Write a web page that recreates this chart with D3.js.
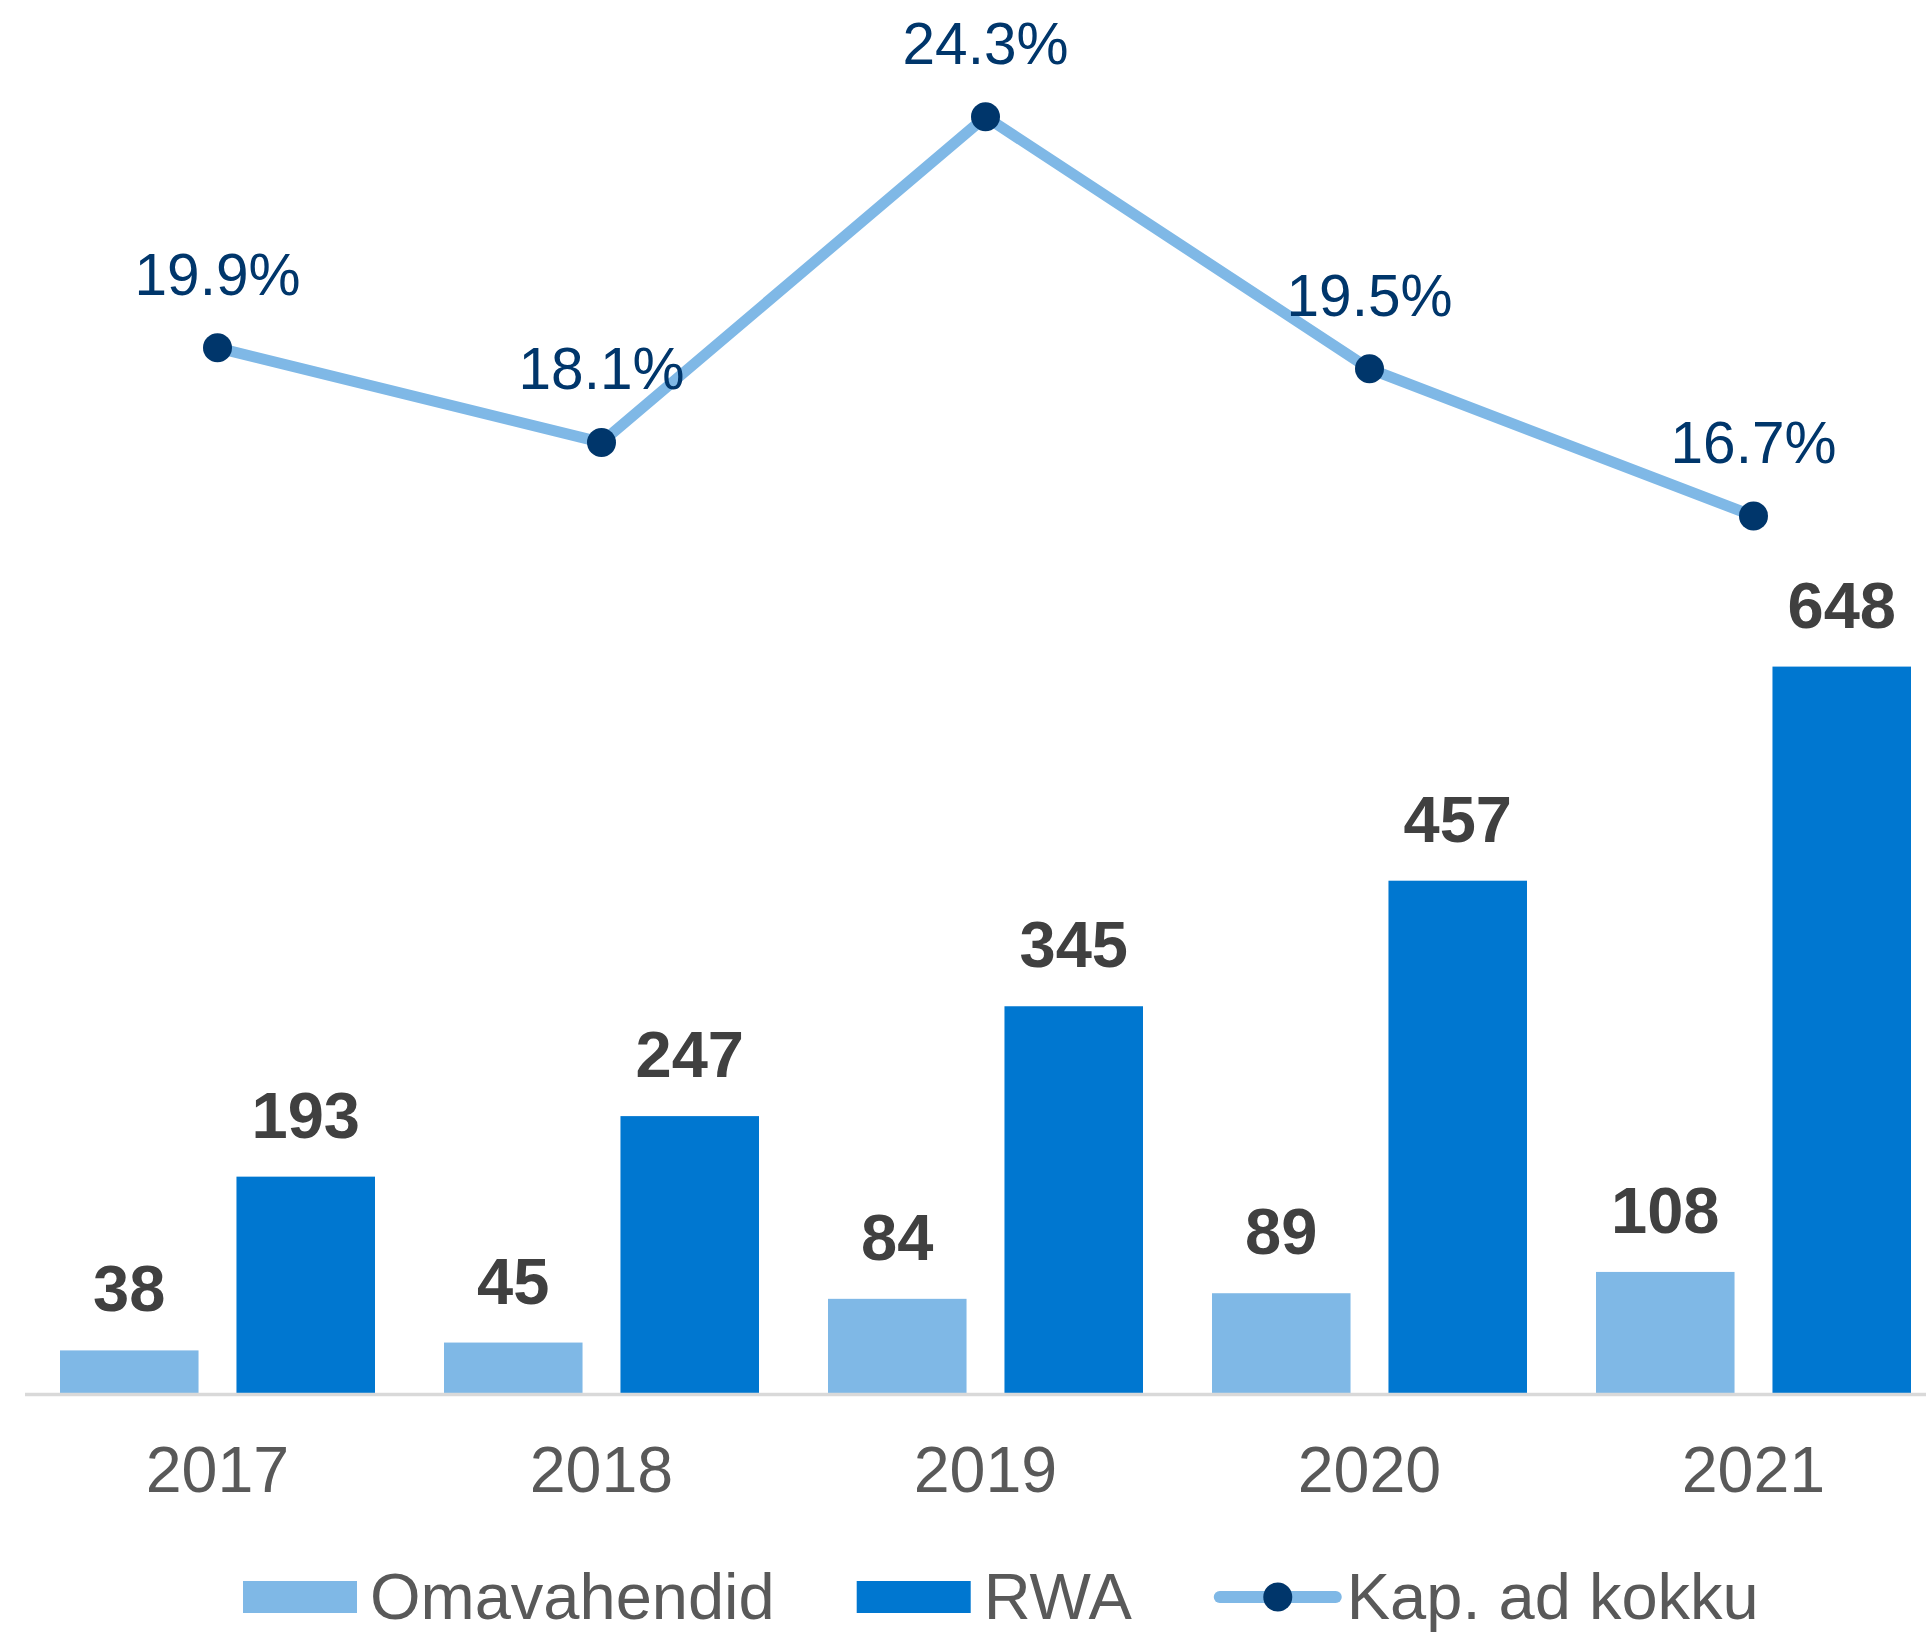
<!DOCTYPE html>
<html>
<head>
<meta charset="utf-8">
<script src="https://cdn.jsdelivr.net/npm/d3@7"></script>
<style>
  body { margin: 0; background: #fff; }
  svg { display: block; font-family: "Liberation Sans", Arial, sans-serif; }
</style>
</head>
<body>
<div id="chart"></div>
<script>
// data
var years = ['2017', '2018', '2019', '2020', '2021'];
var omavahendid = [38, 45, 84, 89, 108];
var rwa = [193, 247, 345, 457, 648];
var kapAdKokku = [19.9, 18.1, 24.3, 19.5, 16.7];
var seriesNames = ['Omavahendid', 'RWA', 'Kap. ad kokku'];

var colors = {
    light: '#7FB8E6',
    rwa: '#0077D0',
    dot: '#00366B',
    pct: '#00366B',
    barLbl: '#404040',
    axisTxt: '#595959',
    axis: '#D9D9D9'
};

var width = 1926, height = 1633;
var baseY = 1393;

var svg = d3.select('#chart').append('svg')
    .attr('width', width)
    .attr('height', height);

var x0 = d3.scaleBand()
    .domain(years)
    .range([25.5, 1945.5]);

var x1 = d3.scaleBand()
    .domain(['om', 'rwa'])
    .range([0, x0.bandwidth()])
    .paddingInner(0.215)
    .paddingOuter(0.1955);

var yBar = d3.scaleLinear()
    .domain([0, 700])
    .range([baseY, baseY - 700 * 1.121]);

var yPct = d3.scaleLinear()
    .domain([0, 25])
    .range([baseY, baseY - 25 * 52.52]);

var rows = years.map(function(y, i) {
    return { year: y, om: omavahendid[i], rwa: rwa[i], pct: kapAdKokku[i] };
});

// bars
var groups = svg.selectAll('g.year')
    .data(rows)
  .enter().append('g')
    .attr('class', 'year')
    .attr('transform', function(d) { return 'translate(' + x0(d.year) + ',0)'; });

['om', 'rwa'].forEach(function(key) {
    groups.append('rect')
        .attr('x', x1(key))
        .attr('width', x1.bandwidth())
        .attr('y', function(d) { return yBar(d[key]); })
        .attr('height', function(d) { return baseY - yBar(d[key]); })
        .attr('fill', key === 'om' ? colors.light : colors.rwa);

    groups.append('text')
        .attr('x', x1(key) + x1.bandwidth() / 2)
        .attr('y', function(d) { return yBar(d[key]) - 39; })
        .attr('text-anchor', 'middle')
        .attr('font-size', 65)
        .attr('font-weight', 'bold')
        .attr('fill', colors.barLbl)
        .text(function(d) { return d[key]; });
});

// x axis
var xAxis = svg.append('g')
    .attr('transform', 'translate(0,' + (baseY + 1.5) + ')')
    .call(d3.axisBottom(x0).tickSize(0).tickPadding(0));
xAxis.select('.domain').remove();
xAxis.append('line')
    .attr('x1', 25).attr('x2', width)
    .attr('y1', 0).attr('y2', 0)
    .attr('stroke', colors.axis)
    .attr('stroke-width', 3.5);
xAxis.selectAll('.tick text')
    .attr('dy', null)
    .attr('y', 97)
    .attr('font-size', 64.5)
    .attr('font-family', '"Liberation Sans", Arial, sans-serif')
    .attr('fill', colors.axisTxt);

// line
var cx = function(d) { return x0(d.year) + x0.bandwidth() / 2; };
var line = d3.line()
    .x(cx)
    .y(function(d) { return yPct(d.pct); });

svg.append('path')
    .datum(rows)
    .attr('d', line)
    .attr('fill', 'none')
    .attr('stroke', colors.light)
    .attr('stroke-width', 11)
    .attr('stroke-linejoin', 'round');

svg.selectAll('circle.pt')
    .data(rows)
  .enter().append('circle')
    .attr('class', 'pt')
    .attr('cx', cx)
    .attr('cy', function(d) { return yPct(d.pct); })
    .attr('r', 14.5)
    .attr('fill', colors.dot);

svg.selectAll('text.pct')
    .data(rows)
  .enter().append('text')
    .attr('class', 'pct')
    .attr('x', cx)
    .attr('y', function(d) { return yPct(d.pct) - 53; })
    .attr('text-anchor', 'middle')
    .attr('font-size', 58.5)
    .attr('fill', colors.pct)
    .text(function(d) { return d.pct.toFixed(1) + '%'; });

// legend
var legend = svg.append('g').attr('transform', 'translate(243,1597)');
var lx = 0;
seriesNames.forEach(function(name, i) {
    var g = legend.append('g').attr('transform', 'translate(' + lx + ',0)');
    var sw;
    if (i < 2) {
        sw = 114;
        g.append('rect')
            .attr('x', 0).attr('y', -16)
            .attr('width', sw).attr('height', 32)
            .attr('fill', i === 0 ? colors.light : colors.rwa);
    } else {
        sw = 122;
        g.append('line')
            .attr('x1', 6).attr('x2', sw)
            .attr('y1', 0).attr('y2', 0)
            .attr('stroke', colors.light)
            .attr('stroke-width', 12)
            .attr('stroke-linecap', 'round');
        g.append('circle')
            .attr('cx', 6 + (sw - 6) / 2).attr('cy', 0)
            .attr('r', 14.5)
            .attr('fill', colors.dot);
    }
    var t = g.append('text')
        .attr('x', sw + (i < 2 ? 13 : 11))
        .attr('y', 22)
        .attr('font-size', 65)
        .attr('fill', colors.axisTxt)
        .text(name);
    lx += sw + (i < 2 ? 13 : 11) + t.node().getComputedTextLength() + 82;
});
</script>
</body>
</html>
